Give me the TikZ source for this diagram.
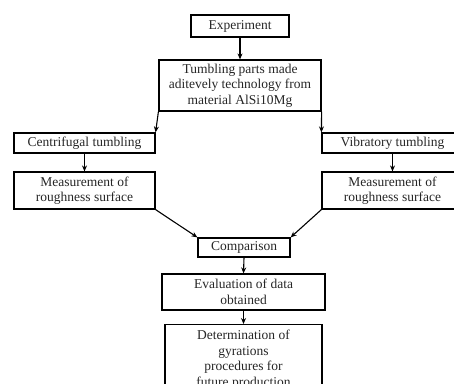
\documentclass[tikz,border=0pt]{standalone}
\usepackage{fontspec}
\setmainfont{Liberation Serif}
\usetikzlibrary{arrows.meta}
\begin{document}
\begin{tikzpicture}[x=1pt,y=-1pt,
  box/.style={draw=black, line width=1.2pt, inner sep=0pt, align=center,
    font=\fontsize{13.5}{15.5}\selectfont, text=black!85},
  arr/.style={line width=1.1pt, -{Stealth[length=6pt,width=5pt]}},
  ln/.style={line width=1.1pt}]
\useasboundingbox (0,0) rectangle (454,383);
\clip (0,0) rectangle (454,383);
\node[box, minimum width=98pt, minimum height=22pt] (exp) at (240,26) {Experiment};
\node[box, minimum width=162pt, minimum height=51pt] (tum) at (240,85.5) {Tumbling parts made\\aditevely technology from\\material AlSi10Mg};
\node[box, minimum width=141pt, minimum height=20pt] (cen) at (84.5,143) {Centrifugal tumbling};
\node[box, minimum width=141pt, minimum height=20pt] (vib) at (392.5,143) {Vibratory tumbling};
\node[box, minimum width=141pt, minimum height=37pt] (ml) at (84.5,190.5) {Measurement of\\roughness surface};
\node[box, minimum width=141pt, minimum height=37pt] (mr) at (392.5,190.5) {Measurement of\\roughness surface};
\node[box, minimum width=92pt, minimum height=19pt] (cmp) at (244,247.5) {Comparison};
\node[box, minimum width=163pt, minimum height=36pt] (eva) at (243.5,292) {Evaluation of data\\obtained};
\node[box, minimum width=157pt, minimum height=70pt, anchor=north, inner ysep=4pt] (det) at (243.5,324) {Determination of\\gyrations\\procedures for\\future production};
\draw[arr] (exp.south) -- (tum.north);
\draw[arr] (tum.south west) -- (cen.north east);
\draw[arr] (tum.south east) -- (vib.north west);
\draw[arr] (cen.south) -- (ml.north);
\draw[arr] (vib.south) -- (mr.north);
\draw[arr] (ml.south east) -- (cmp.north west);
\draw[arr] (mr.south west) -- (cmp.north east);
\draw[arr] (cmp.south) -- (eva.north);
\draw[arr] (eva.south) -- (det.north);
\end{tikzpicture}
\end{document}
